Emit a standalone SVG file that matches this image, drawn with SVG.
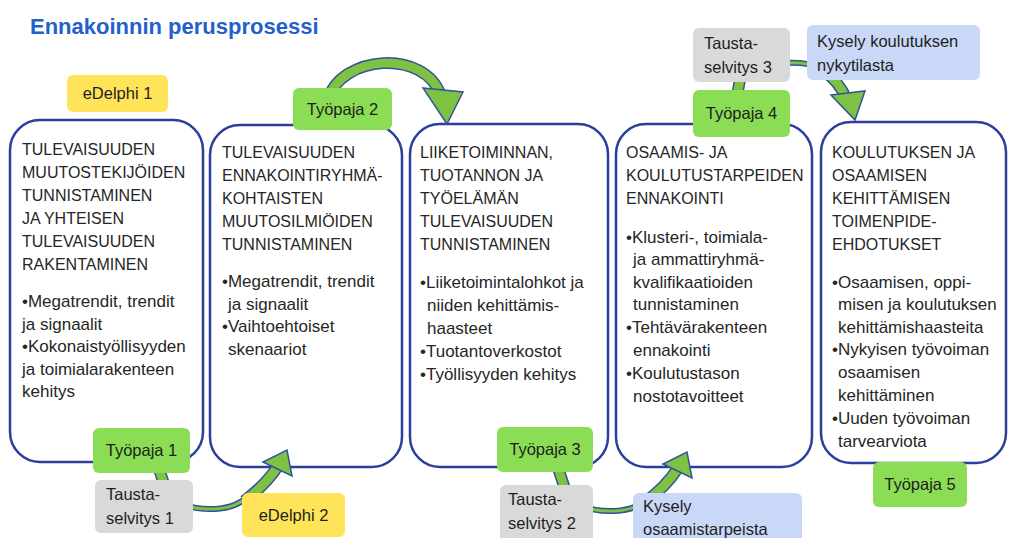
<svg xmlns="http://www.w3.org/2000/svg" width="1011" height="538" viewBox="0 0 1011 538">
<style>
.bg{fill:#ffffff}
.title{font-family:"Liberation Sans",Arial,sans-serif;font-weight:bold;font-size:22px;fill:#2360cc}
.box{fill:#ffffff;stroke:#2b3f9c;stroke-width:2.5}
.hd{font-family:"Liberation Sans",Arial,sans-serif;font-size:16px;fill:#262626}
.bl{font-family:"Liberation Sans",Arial,sans-serif;font-size:17px;fill:#262626}
.lbl{font-family:"Liberation Sans",Arial,sans-serif;font-size:16.5px;fill:#1e1e1e}
.mid{text-anchor:middle}
.yel{fill:#ffe45a}
.grn{fill:#8bdd55}
.gry{fill:#d9d9d9}
.blu{fill:#c9d8f7}
.sho{fill:none;stroke:#34519b;stroke-width:12;stroke-linecap:butt}
.shi{fill:none;stroke:#7dc242;stroke-width:9;stroke-linecap:butt}
.tho{fill:none;stroke:#34519b;stroke-width:6;stroke-linecap:butt}
.thi{fill:none;stroke:#7dc242;stroke-width:3;stroke-linecap:butt}
.head{fill:#7dc242;stroke:#34519b;stroke-width:1.5;stroke-linejoin:miter}
</style>
<rect class="bg" x="0" y="0" width="1011" height="538"/>
<text class="title" x="30" y="34">Ennakoinnin perusprosessi</text>

<g id="box1">
<rect class="box" x="10" y="120" width="193" height="342" rx="30"/>
<text class="hd"><tspan x="22" y="155">TULEVAISUUDEN</tspan><tspan x="22" y="178">MUUTOSTEKIJÖIDEN</tspan><tspan x="22" y="201">TUNNISTAMINEN</tspan><tspan x="22" y="224">JA YHTEISEN</tspan><tspan x="22" y="247">TULEVAISUUDEN</tspan><tspan x="22" y="270">RAKENTAMINEN</tspan></text>
<text class="bl"><tspan x="22" y="307">•Megatrendit, trendit</tspan><tspan x="22" y="330">ja signaalit</tspan><tspan x="22" y="352">•Kokonaistyöllisyyden</tspan><tspan x="22" y="375">ja toimialarakenteen</tspan><tspan x="22" y="397">kehitys</tspan></text>
</g>
<g id="box2">
<rect class="box" x="210" y="125" width="192" height="342" rx="30"/>
<text class="hd"><tspan x="222" y="158">TULEVAISUUDEN</tspan><tspan x="222" y="181">ENNAKOINTIRYHMÄ-</tspan><tspan x="222" y="204">KOHTAISTEN</tspan><tspan x="222" y="227">MUUTOSILMIÖIDEN</tspan><tspan x="222" y="250">TUNNISTAMINEN</tspan></text>
<text class="bl"><tspan x="222" y="287">•Megatrendit, trendit</tspan><tspan x="228" y="310">ja signaalit</tspan><tspan x="222" y="332">•Vaihtoehtoiset</tspan><tspan x="228" y="355">skenaariot</tspan></text>
</g>
<g id="box3">
<rect class="box" x="410" y="124" width="198" height="343" rx="30"/>
<text class="hd"><tspan x="420" y="158">LIIKETOIMINNAN,</tspan><tspan x="420" y="181">TUOTANNON JA</tspan><tspan x="420" y="204">TYÖELÄMÄN</tspan><tspan x="420" y="227">TULEVAISUUDEN</tspan><tspan x="420" y="250">TUNNISTAMINEN</tspan></text>
<text class="bl"><tspan x="420" y="288">•Liiketoimintalohkot ja</tspan><tspan x="427" y="311">niiden kehittämis-</tspan><tspan x="427" y="334">haasteet</tspan><tspan x="420" y="357">•Tuotantoverkostot</tspan><tspan x="420" y="380">•Työllisyyden kehitys</tspan></text>
</g>
<g id="box4">
<rect class="box" x="616" y="124" width="196" height="343" rx="30"/>
<text class="hd"><tspan x="626" y="158">OSAAMIS- JA</tspan><tspan x="626" y="181">KOULUTUSTARPEIDEN</tspan><tspan x="626" y="204">ENNAKOINTI</tspan></text>
<text class="bl"><tspan x="626" y="243">•Klusteri-, toimiala-</tspan><tspan x="633" y="265">ja ammattiryhmä-</tspan><tspan x="633" y="288">kvalifikaatioiden</tspan><tspan x="633" y="310">tunnistaminen</tspan><tspan x="626" y="333">•Tehtävärakenteen</tspan><tspan x="633" y="356">ennakointi</tspan><tspan x="626" y="379">•Koulutustason</tspan><tspan x="633" y="402">nostotavoitteet</tspan></text>
</g>
<g id="box5">
<rect class="box" x="821" y="122" width="185" height="341" rx="30"/>
<text class="hd"><tspan x="832" y="158">KOULUTUKSEN JA</tspan><tspan x="832" y="181">OSAAMISEN</tspan><tspan x="832" y="204">KEHITTÄMISEN</tspan><tspan x="832" y="227">TOIMENPIDE-</tspan><tspan x="832" y="250">EHDOTUKSET</tspan></text>
<text class="bl"><tspan x="832" y="288">•Osaamisen, oppi-</tspan><tspan x="838" y="310">misen ja koulutuksen</tspan><tspan x="838" y="333">kehittämishaasteita</tspan><tspan x="832" y="355">•Nykyisen työvoiman</tspan><tspan x="838" y="378">osaamisen</tspan><tspan x="838" y="401">kehittäminen</tspan><tspan x="832" y="424">•Uuden työvoiman</tspan><tspan x="838" y="447">tarvearviota</tspan></text>
</g>

<g id="connectors">
<g id="arrow-tp2-box3">
<path class="sho" d="M328 100 C340 55 425 48 441 96"/>
<path class="shi" d="M328 100 C340 55 425 48 441 96"/>
<polygon class="head" points="423,88 463,92 447,124"/>
</g>
<g id="arrow-tp1-box2">
<path class="sho" d="M158 466 L166 490"/>
<path class="shi" d="M158 466 L166 490"/>
<path class="tho" d="M164 485 C172 503 190 510 215 509 C232 508 240 503 248 497"/>
<path class="thi" d="M164 485 C172 503 190 510 215 509 C232 508 240 503 248 497"/>
<path class="sho" d="M244 501 C256 492 268 482 278 466"/>
<path class="shi" d="M244 501 C256 492 268 482 278 466"/>
<polygon class="head" points="263,462 292,476 287,450"/>
</g>
<g id="arrow-tp3-box4" transform="translate(400,2)">
<path class="sho" d="M158 466 L166 490"/>
<path class="shi" d="M158 466 L166 490"/>
<path class="tho" d="M164 485 C172 503 190 510 215 509 C232 508 240 503 248 497"/>
<path class="thi" d="M164 485 C172 503 190 510 215 509 C232 508 240 503 248 497"/>
<path class="sho" d="M244 501 C256 492 268 482 278 466"/>
<path class="shi" d="M244 501 C256 492 268 482 278 466"/>
<polygon class="head" points="263,462 292,476 287,450"/>
</g>
<g id="arrow-tp4-box5">
<path class="sho" d="M737 96 L741 74"/>
<path class="shi" d="M737 96 L741 74"/>
<path class="tho" d="M740 78 C746 66 765 62 800 63 C812 64 820 67 828 73"/>
<path class="thi" d="M740 78 C746 66 765 62 800 63 C812 64 820 67 828 73"/>
<path class="sho" d="M822 70 C835 78 842 88 847 100"/>
<path class="shi" d="M822 70 C835 78 842 88 847 100"/>
<polygon class="head" points="831,95 865,91 855,120"/>
</g>
</g>

<g id="edelphi1"><rect class="yel" x="67" y="75" width="101" height="37" rx="6"/><text class="lbl mid" x="117.5" y="99">eDelphi 1</text></g>
<g id="tyopaja2"><rect class="grn" x="293" y="88" width="99" height="42" rx="6"/><text class="lbl mid" x="342.5" y="115">Työpaja 2</text></g>
<g id="tyopaja1"><rect class="grn" x="93" y="428" width="97" height="45" rx="6"/><text class="lbl mid" x="141.5" y="456">Työpaja 1</text></g>
<g id="tausta1"><rect class="gry" x="95" y="480" width="98" height="53" rx="6"/><text class="lbl"><tspan x="106" y="500">Tausta-</tspan><tspan x="106" y="524">selvitys 1</tspan></text></g>
<g id="edelphi2"><rect class="yel" x="242" y="493" width="103" height="44" rx="6"/><text class="lbl mid" x="293.5" y="521">eDelphi 2</text></g>
<g id="tyopaja3"><rect class="grn" x="497" y="427" width="96" height="45" rx="6"/><text class="lbl mid" x="545" y="455">Työpaja 3</text></g>
<g id="tausta2"><rect class="gry" x="500" y="485" width="93" height="60" rx="6"/><text class="lbl"><tspan x="508" y="505">Tausta-</tspan><tspan x="508" y="529">selvitys 2</tspan></text></g>
<g id="kysely1"><rect class="blu" x="633" y="493" width="169" height="52" rx="6"/><text class="lbl"><tspan x="643" y="512">Kysely</tspan><tspan x="643" y="535">osaamistarpeista</tspan></text></g>
<g id="tyopaja4"><rect class="grn" x="693" y="90" width="97" height="47" rx="6"/><text class="lbl mid" x="741.5" y="119">Työpaja 4</text></g>
<g id="tausta3"><rect class="gry" x="693" y="28" width="97" height="54" rx="6"/><text class="lbl"><tspan x="704" y="49">Tausta-</tspan><tspan x="704" y="73">selvitys 3</tspan></text></g>
<g id="kysely2"><rect class="blu" x="807" y="25" width="173" height="55" rx="6"/><text class="lbl"><tspan x="817" y="47">Kysely koulutuksen</tspan><tspan x="817" y="71">nykytilasta</tspan></text></g>
<g id="tyopaja5"><rect class="grn" x="873" y="462" width="94" height="45" rx="6"/><text class="lbl mid" x="920" y="490">Työpaja 5</text></g>
</svg>
